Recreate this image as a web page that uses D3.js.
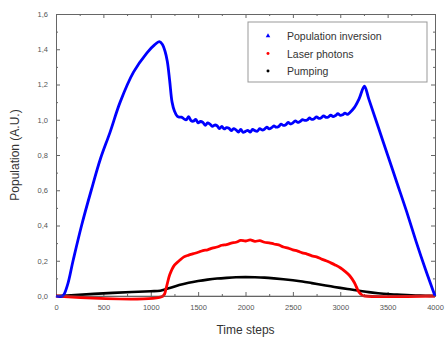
<!DOCTYPE html>
<html>
<head>
<meta charset="utf-8">
<script src="https://cdn.jsdelivr.net/npm/d3@7"></script>
<style>
  body { margin: 0; background: #fff; }
  text { font-family: "Liberation Sans", Arial, sans-serif; }
</style>
</head>
<body>
<svg id="chart" width="447" height="338"></svg>
<script>
// values (time step, population)
const inversionT = [0, 70, 120, 180, 270, 372, 470, 571, 677, 818, 960, 1040, 1090, 1120, 1150, 1175, 1200, 1225, 1250, 1280, 1300,
  1325, 1350, 1375, 1400, 1425, 1450, 1475, 1500, 1525, 1550, 1575, 1600, 1625, 1650, 1675, 1700, 1725, 1750, 1775, 1800, 1825, 1850, 1875, 1900, 1925, 1950, 1975,
  2000, 2025, 2050, 2075, 2100, 2125, 2150, 2175, 2200, 2225, 2250, 2275, 2300, 2325, 2350, 2375, 2400, 2425, 2450, 2475, 2500, 2525, 2550, 2575, 2600,
  2625, 2650, 2675, 2700, 2725, 2750, 2775, 2800, 2825, 2850, 2875, 2900, 2925, 2950, 2975, 3000, 3025, 3050, 3075, 3100, 3150, 3200, 3255,
  3300, 3400, 3500, 3600, 3700, 3800, 3900, 4000];
const inversionV = [0, 0, 0.06, 0.2, 0.4, 0.6, 0.78, 0.93, 1.1, 1.27, 1.38, 1.425, 1.443, 1.43, 1.39, 1.33, 1.22, 1.1, 1.05, 1.02, 1.015,
  1.015, 1.005, 1.0, 1.018, 0.995, 0.992, 1.002, 0.982, 0.99, 0.985, 0.968, 0.982, 0.975, 0.962, 0.97, 0.966, 0.95, 0.962, 0.948, 0.955, 0.952, 0.938, 0.95, 0.942, 0.93, 0.945, 0.928,
  0.934, 0.94, 0.93, 0.945, 0.938, 0.935, 0.95, 0.942, 0.946, 0.958, 0.948, 0.955, 0.965, 0.958, 0.962, 0.975, 0.968, 0.972, 0.985, 0.976, 0.982, 0.994, 0.985, 0.99, 1.0,
  0.996, 0.998, 1.01, 1.002, 1.006, 1.016, 1.008, 1.012, 1.022, 1.014, 1.016, 1.026, 1.018, 1.024, 1.034, 1.025, 1.028, 1.038, 1.03, 1.04, 1.07, 1.12, 1.19,
  1.12, 0.96, 0.80, 0.64, 0.48, 0.31, 0.15, 0];

const photonsT = [0, 1130, 1160, 1200, 1250, 1300, 1350, 1400, 1450, 1500, 1550, 1600, 1650, 1700, 1750, 1800, 1850, 1900, 1950, 2000, 2050, 2100, 2150, 2200,
  2250, 2300, 2350, 2400, 2450, 2500, 2550, 2600, 2650, 2700, 2750, 2800, 2850, 2900, 2950, 3000, 3050, 3100, 3150, 3180, 3200, 3230, 3260, 4000];
const photonsV = [0, 0, 0.04, 0.12, 0.175, 0.2, 0.222, 0.232, 0.24, 0.248, 0.258, 0.262, 0.272, 0.278, 0.288, 0.292, 0.3, 0.305, 0.315, 0.312, 0.318, 0.31, 0.314, 0.305,
  0.302, 0.295, 0.29, 0.278, 0.272, 0.262, 0.255, 0.245, 0.238, 0.228, 0.222, 0.21, 0.2, 0.188, 0.175, 0.16, 0.14, 0.115, 0.075, 0.04, 0.02, 0.005, 0, 0];

const pumpingT = [0, 200, 400, 600, 800, 1000, 1100, 1200, 1300, 1400, 1500, 1600, 1700, 1800, 1900, 2000, 2100, 2200, 2300, 2400, 2500, 2600, 2700, 2800,
  2900, 3000, 3100, 3200, 3300, 3400, 3500, 3600, 3700, 3800, 3900, 4000];
const pumpingV = [0, 0.005, 0.012, 0.018, 0.023, 0.027, 0.03, 0.045, 0.062, 0.075, 0.085, 0.093, 0.099, 0.103, 0.106, 0.107, 0.106, 0.104, 0.1, 0.095, 0.089,
  0.082, 0.073, 0.064, 0.055, 0.046, 0.038, 0.03, 0.022, 0.016, 0.011, 0.008, 0.005, 0.003, 0.001, 0];

const seriesNames = ["Population inversion", "Laser photons", "Pumping"];
const seriesColors = ["#0000ff", "#ff0000", "#000000"];
const xTicks = [0, 500, 1000, 1500, 2000, 2500, 3000, 3500, 4000];
const yTicks = [0, 0.2, 0.4, 0.6, 0.8, 1.0, 1.2, 1.4, 1.6];

const svg = d3.select("#chart");
const plotL = 56, plotR = 435, plotT = 14, plotB = 296;

const x = d3.scaleLinear().domain([0, 4000]).range([plotL, plotR]);
const y = d3.scaleLinear().domain([0, 1.6]).range([plotB, plotT]);

// minor ticks
const xMinor = d3.range(0, 4001, 250).filter(d => d % 500 !== 0);
const yMinor = d3.range(1, 16, 2).map(d => d / 10);

const axisColor = "#666";
const fmt = d => d3.format(".1f")(d).replace(".", ",");

// frame with inward ticks on all 4 sides
function addAxis(axis, tx, ty) {
  const g = svg.append("g").attr("transform", `translate(${tx},${ty})`).call(axis);
  g.select(".domain").attr("stroke", axisColor);
  g.selectAll(".tick line").attr("stroke", axisColor);
  g.selectAll("text").attr("fill", "#555").attr("font-size", "7.5px");
  return g;
}

addAxis(d3.axisBottom(x).tickValues(xTicks).tickSize(-4).tickPadding(9).tickFormat(d3.format("d")), 0, plotB);
addAxis(d3.axisBottom(x).tickValues(xMinor).tickSize(-2).tickFormat(""), 0, plotB);
addAxis(d3.axisTop(x).tickValues(xTicks).tickSize(-4).tickFormat(""), 0, plotT);
addAxis(d3.axisTop(x).tickValues(xMinor).tickSize(-2).tickFormat(""), 0, plotT);
addAxis(d3.axisLeft(y).tickValues(yTicks).tickSize(-4).tickPadding(8).tickFormat(fmt), plotL, 0);
addAxis(d3.axisLeft(y).tickValues(yMinor).tickSize(-2).tickFormat(""), plotL, 0);
addAxis(d3.axisRight(y).tickValues(yTicks).tickSize(-4).tickFormat(""), plotR, 0);
addAxis(d3.axisRight(y).tickValues(yMinor).tickSize(-2).tickFormat(""), plotR, 0);

// series
const line = d3.line().x(d => x(d[0])).y(d => y(d[1])).curve(d3.curveCatmullRom.alpha(0.5));
const series = [
  d3.zip(pumpingT, pumpingV),
  d3.zip(photonsT, photonsV),
  d3.zip(inversionT, inversionV)
];
const drawOrder = [2, 1, 0];

svg.append("g")
  .selectAll("path")
  .data(series)
  .join("path")
  .attr("d", line)
  .attr("fill", "none")
  .attr("stroke", (d, i) => seriesColors[drawOrder[i]])
  .attr("stroke-width", (d, i) => drawOrder[i] === 2 ? 2.6 : 2.8)
  .attr("stroke-linejoin", "round");

// redraw bottom domain on top of the curves
svg.append("line")
  .attr("x1", plotL).attr("x2", plotR).attr("y1", plotB).attr("y2", plotB)
  .attr("stroke", axisColor).attr("stroke-width", 0.6);

// legend
const legend = svg.append("g").attr("transform", "translate(248,22)");
legend.append("rect")
  .attr("width", 179).attr("height", 60)
  .attr("fill", "#fff").attr("stroke", "#999");

const rows = legend.selectAll("g.row")
  .data(seriesNames)
  .join("g")
  .attr("class", "row")
  .attr("transform", (d, i) => `translate(0,${14 + i * 17.5})`);

rows.append("path")
  .attr("transform", "translate(20,0)")
  .attr("d", (d, i) => i === 0 ? d3.symbol(d3.symbolTriangle, 9)() : d3.symbol(d3.symbolCircle, 7)())
  .attr("fill", (d, i) => seriesColors[i]);

rows.append("text")
  .attr("x", 39)
  .attr("y", 4)
  .attr("font-size", "10.5px")
  .attr("fill", "#333")
  .text(d => d);

// axis titles
svg.append("text")
  .attr("x", (plotL + plotR) / 2)
  .attr("y", 334)
  .attr("text-anchor", "middle")
  .attr("font-size", "12px")
  .attr("fill", "#333")
  .text("Time steps");

svg.append("text")
  .attr("transform", "translate(19,155) rotate(-90)")
  .attr("text-anchor", "middle")
  .attr("font-size", "12px")
  .attr("fill", "#333")
  .text("Population (A.U.)");
</script>
</body>
</html>
